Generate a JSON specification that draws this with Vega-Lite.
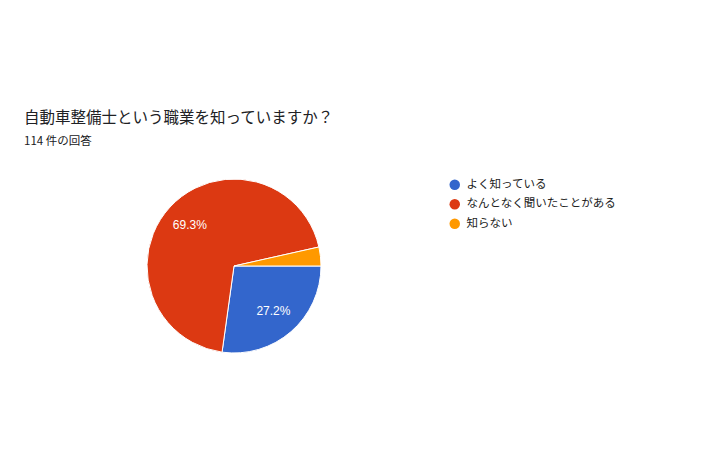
{
  "$schema": "https://vega.github.io/schema/vega-lite/v6.json",
  "width": 174,
  "height": 174,
  "autosize": "none",
  "padding": {"left": 147, "top": 179, "right": 389, "bottom": 121},
  "background": "white",
  "view": {"stroke": null},
  "title": {
    "text": "自動車整備士という職業を知っていますか？",
    "subtitle": "114 件の回答",
    "anchor": "start",
    "frame": "group",
    "dx": -123,
    "offset": 30,
    "font": "Noto Sans CJK JP",
    "fontSize": 15.5,
    "fontWeight": "normal",
    "color": "#202124",
    "subtitleFont": "Noto Sans CJK JP",
    "subtitleFontSize": 11.5,
    "subtitleColor": "#202124",
    "subtitlePadding": 9
  },
  "data": {
    "values": [
      {"answer": "よく知っている", "count": 31, "idx": 1, "label": "27.2%"},
      {"answer": "なんとなく聞いたことがある", "count": 79, "idx": 2, "label": "69.3%"},
      {"answer": "知らない", "count": 4, "idx": 3, "label": ""}
    ]
  },
  "encoding": {
    "theta": {
      "field": "count",
      "type": "quantitative",
      "stack": true,
      "scale": {"range": [1.5707963, 7.8539816]}
    },
    "order": {"field": "idx", "type": "quantitative"},
    "color": {
      "field": "answer",
      "type": "nominal",
      "scale": {
        "domain": ["よく知っている", "なんとなく聞いたことがある", "知らない"],
        "range": ["#3366cc", "#dc3912", "#ff9900"]
      },
      "legend": {
        "orient": "none",
        "legendX": 302,
        "legendY": 0,
        "title": null,
        "symbolType": "circle",
        "symbolSize": 110,
        "symbolStrokeWidth": 0,
        "labelFont": "Noto Sans CJK JP",
        "labelFontSize": 11.5,
        "labelColor": "#222222",
        "labelOffset": 6,
        "rowPadding": 6.5
      }
    }
  },
  "layer": [
    {"mark": {"type": "arc", "outerRadius": 87, "stroke": "white", "strokeWidth": 1}},
    {
      "mark": {"type": "text", "radius": 60, "font": "Liberation Sans", "fontSize": 12, "fill": "white"},
      "encoding": {"text": {"field": "label"}, "color": {"value": "white"}}
    }
  ]
}
